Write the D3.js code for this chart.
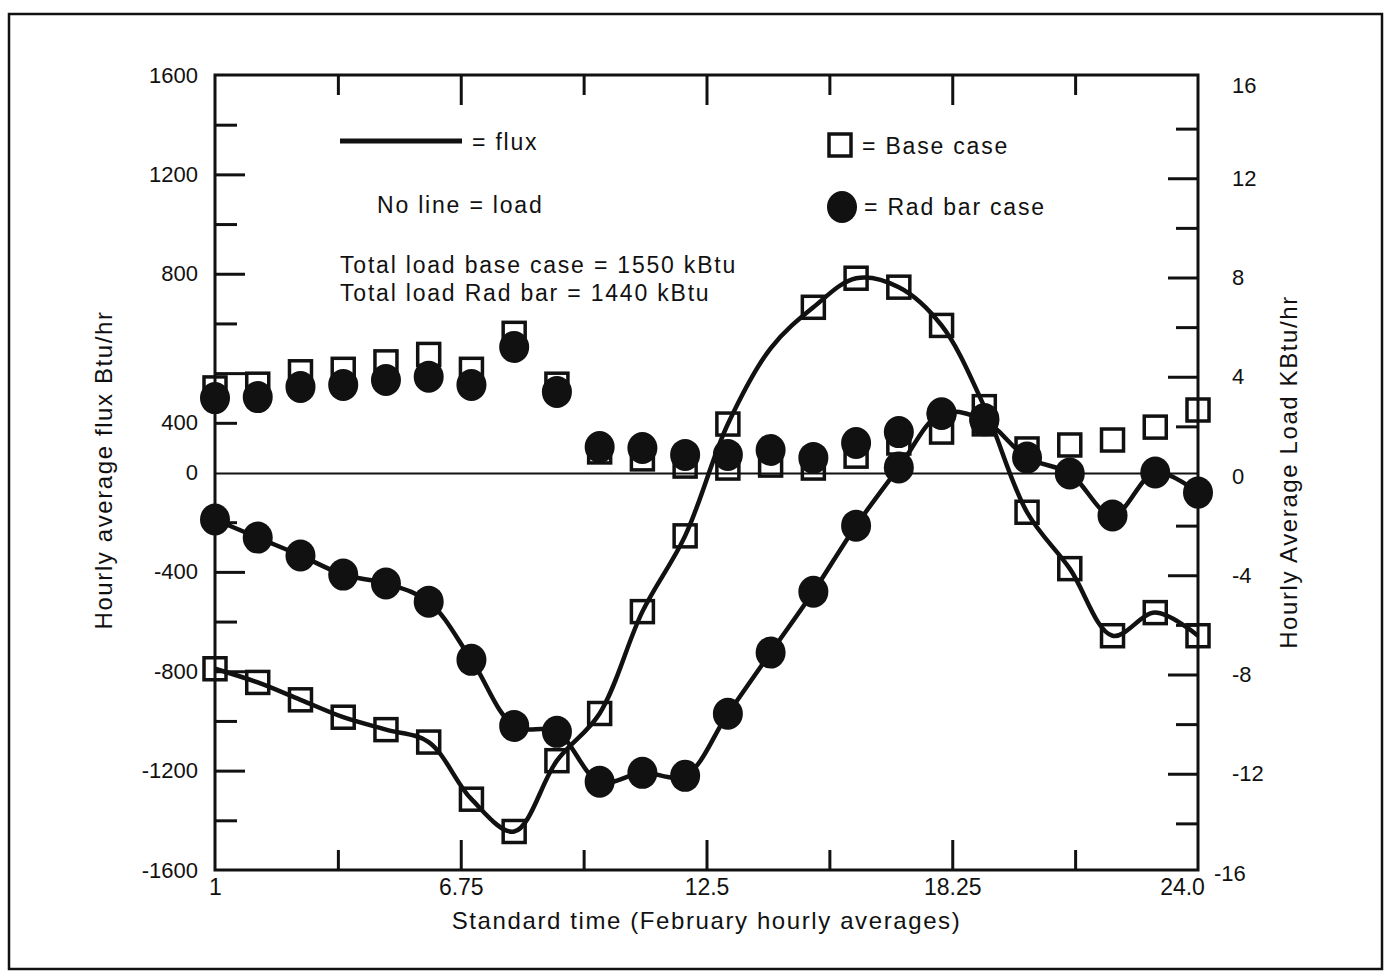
<!DOCTYPE html>
<html>
<head>
<meta charset="utf-8">
<script src="https://cdn.jsdelivr.net/npm/d3@7"></script>
<style>
  body { margin: 0; background: #fff; }
  svg text { font-family: "Liberation Sans", Arial, Helvetica, sans-serif; fill: #111; }
</style>
</head>
<body>
<div id="chart"></div>
<script>
// hours of the day (x categories)
var hours = [1, 2, 3, 4, 5, 6, 7, 8, 9, 10, 11, 12, 13, 14, 15, 16, 17, 18, 19, 20, 21, 22, 23, 24];

// flux, Btu/hr (left axis)
var baseFlux = [-790, -845, -915, -985, -1035, -1085, -1315, -1445, -1160, -970, -560, -255,
                195, 500, 665, 782, 746, 592, 265, -160, -387, -657, -564, -657];
var radFlux = [-189, -262, -334, -411, -447, -520, -754, -1020, -1044, -1245, -1209, -1221,
               -971, -725, -480, -214, 20, 238, 210, 60, -4, -173, 0, -81];
// the base case flux has no marker drawn at these hours
var baseFluxNoMarker = [14];

// load, kBtu/hr (right axis)
var baseLoad = [3.55, 3.7, 4.2, 4.3, 4.6, 4.9, 4.3, 5.75, 3.7, 0.97, 0.69, 0.4,
                0.32, 0.44, 0.32, 0.8, 1.33, 1.77, 2.1, 1.09, 1.25, 1.45, 1.97, 2.66];
var radLoad = [3.14, 3.18, 3.59, 3.67, 3.87, 4.0, 3.67, 5.2, 3.39, 1.17, 1.13, 0.85,
               0.85, 1.05, 0.73, 1.33, 1.77, 2.5, 2.3, null, null, null, null, null];

// axis ticks and labels
var xMajorTicks = [6.75, 12.5, 18.25];
var xMinorTicks = [3.875, 9.625, 15.375, 21.125];
var xLabelValues = [1, 6.75, 12.5, 18.25, 24];
var xLabelText = ["1", "6.75", "12.5", "18.25", "24.0"];
var leftMajorTicks = [1200, 800, 400, -400, -800, -1200];
var leftMinorTicks = [1400, 1000, 600, 200, -200, -600, -1000, -1400];
var leftLabelValues = [1600, 1200, 800, 200, 0, -400, -800, -1200, -1600];
var leftLabelText = ["1600", "1200", "800", "400", "0", "-400", "-800", "-1200", "-1600"];
var rightMajorTicks = [12, 8, 4, -4, -8, -12];
var rightMinorTicks = [14, 10, 6, 2, -2, -6, -10, -14];
var rightLabelValues = [16, 12, 8, 4, 0, -4, -8, -12, -16];

var width = 1386, height = 977;
var plotL = 215, plotR = 1198, plotT = 75, plotB = 870;

var svg = d3.select("#chart").append("svg")
  .attr("width", width)
  .attr("height", height);

var x = d3.scaleLinear().domain([1, 24]).range([plotL, plotR]);
var yL = d3.scaleLinear().domain([-1600, 1600]).range([plotB, plotT]);
var yR = d3.scaleLinear().domain([-16, 16]).range([plotB + 3, plotT + 4]);

// outer frame
svg.append("rect")
  .attr("x", 9).attr("y", 14)
  .attr("width", 1373).attr("height", 955)
  .style("fill", "none").style("stroke", "#111").style("stroke-width", 2.5);

// ticks (drawn inward)
function tickAxis(axis, vals, size, tx, ty) {
  var g = svg.append("g")
    .attr("transform", "translate(" + tx + "," + ty + ")")
    .call(axis.tickValues(vals).tickSize(-size).tickFormat(""));
  g.select(".domain").remove();
  g.selectAll(".tick line").style("stroke", "#111").style("stroke-width", 3);
  return g;
}
tickAxis(d3.axisTop(x), xMajorTicks, 30, 0, plotT);
tickAxis(d3.axisTop(x), xMinorTicks, 20, 0, plotT);
tickAxis(d3.axisBottom(x), xMajorTicks, 30, 0, plotB);
tickAxis(d3.axisBottom(x), xMinorTicks, 20, 0, plotB);
tickAxis(d3.axisLeft(yL), leftMajorTicks, 30, plotL, 0);
tickAxis(d3.axisLeft(yL), leftMinorTicks, 22, plotL, 0);
tickAxis(d3.axisRight(yR), rightMajorTicks, 30, plotR, 0);
tickAxis(d3.axisRight(yR), rightMinorTicks, 22, plotR, 0);

// tick labels
var gx = svg.append("g")
  .attr("transform", "translate(0," + plotB + ")")
  .call(d3.axisBottom(x).tickValues(xLabelValues).tickSize(0).tickPadding(8)
    .tickFormat(function (d, i) { return xLabelText[i]; }));
gx.select(".domain").remove();
gx.selectAll("text").style("font-size", "23px").attr("dy", "0.75em");
gx.selectAll("text").filter(function (d) { return d === 24; }).attr("dx", "-16");

var gl = svg.append("g")
  .attr("transform", "translate(" + plotL + ",0)")
  .call(d3.axisLeft(yL).tickValues(leftLabelValues).tickSize(0).tickPadding(17)
    .tickFormat(function (d, i) { return leftLabelText[i]; }));
gl.select(".domain").remove();
gl.selectAll("text").style("font-size", "22px");

var gr = svg.append("g")
  .attr("transform", "translate(" + plotR + ",0)")
  .call(d3.axisRight(yR).tickValues(rightLabelValues).tickSize(0).tickPadding(34)
    .tickFormat(function (d) { return d; }));
gr.select(".domain").remove();
gr.selectAll("text").style("font-size", "22px");
gr.selectAll("text").filter(function (d) { return d === 16; }).attr("dy", "0.62em");
gr.selectAll("text").filter(function (d) { return d === -16; }).attr("dx", "-18");

// plot box
svg.append("rect")
  .attr("x", plotL).attr("y", plotT)
  .attr("width", plotR - plotL).attr("height", plotB - plotT)
  .style("fill", "none").style("stroke", "#111").style("stroke-width", 3);

// zero line
svg.append("line")
  .attr("x1", plotL).attr("x2", plotR)
  .attr("y1", yL(0) + 1).attr("y2", yL(0) + 1)
  .style("stroke", "#111").style("stroke-width", 2);

// data rows
function rows(vals) {
  return hours.map(function (h, i) { return { h: h, v: vals[i] }; })
    .filter(function (d) { return d.v != null; });
}

var line = d3.line()
  .x(function (d) { return x(d.h); })
  .y(function (d) { return yL(d.v); })
  .curve(d3.curveCatmullRom.alpha(0.5));

svg.append("path").datum(rows(baseFlux))
  .attr("d", line)
  .style("fill", "none").style("stroke", "#111").style("stroke-width", 4.5);
svg.append("path").datum(rows(radFlux))
  .attr("d", line)
  .style("fill", "none").style("stroke", "#111").style("stroke-width", 4.5);

var sq = 22, rad = 15;

function squares(data, yScale) {
  svg.append("g").selectAll("rect")
    .data(data)
    .enter().append("rect")
      .attr("x", function (d) { return x(d.h) - sq / 2; })
      .attr("y", function (d) { return yScale(d.v) - sq / 2; })
      .attr("width", sq).attr("height", sq)
      .style("fill", "none").style("stroke", "#111").style("stroke-width", 3.5);
}
function dots(data, yScale) {
  svg.append("g").selectAll("ellipse")
    .data(data)
    .enter().append("ellipse")
      .attr("cx", function (d) { return x(d.h); })
      .attr("cy", function (d) { return yScale(d.v); })
      .attr("rx", rad).attr("ry", rad + 1)
      .style("fill", "#111");
}

squares(rows(baseLoad), yR);
squares(rows(baseFlux).filter(function (d) { return baseFluxNoMarker.indexOf(d.h) < 0; }), yL);
dots(rows(radLoad), yR);
dots(rows(radFlux), yL);

// legend and notes
var legend = svg.append("g").style("font-size", "23px").style("letter-spacing", "1.8px");
legend.append("line")
  .attr("x1", 340).attr("x2", 462).attr("y1", 141).attr("y2", 141)
  .style("stroke", "#111").style("stroke-width", 5);
legend.append("text").attr("x", 472).attr("y", 150).text("= flux");
legend.append("text").attr("x", 377).attr("y", 213).text("No line = load");
legend.append("text").attr("x", 340).attr("y", 273).text("Total load base case = 1550 kBtu");
legend.append("text").attr("x", 340).attr("y", 301).text("Total load Rad bar = 1440 kBtu");
legend.append("rect")
  .attr("x", 829).attr("y", 134).attr("width", sq).attr("height", sq)
  .style("fill", "none").style("stroke", "#111").style("stroke-width", 3.5);
legend.append("text").attr("x", 862).attr("y", 154).text("= Base case");
legend.append("ellipse")
  .attr("cx", 842).attr("cy", 207).attr("rx", 15).attr("ry", 16)
  .style("fill", "#111");
legend.append("text").attr("x", 864).attr("y", 215).text("= Rad bar case");

// axis titles
svg.append("text")
  .attr("transform", "translate(" + ((plotL + plotR) / 2) + ",929)")
  .attr("text-anchor", "middle")
  .style("font-size", "24px").style("letter-spacing", "1.6px")
  .text("Standard time (February hourly averages)");
svg.append("text")
  .attr("transform", "translate(112,470) rotate(-90)")
  .attr("text-anchor", "middle")
  .style("font-size", "24px").style("letter-spacing", "1.6px")
  .text("Hourly average flux Btu/hr");
svg.append("text")
  .attr("transform", "translate(1297,472) rotate(-90)")
  .attr("text-anchor", "middle")
  .style("font-size", "24px").style("letter-spacing", "1.6px")
  .text("Hourly Average Load KBtu/hr");
</script>
</body>
</html>
